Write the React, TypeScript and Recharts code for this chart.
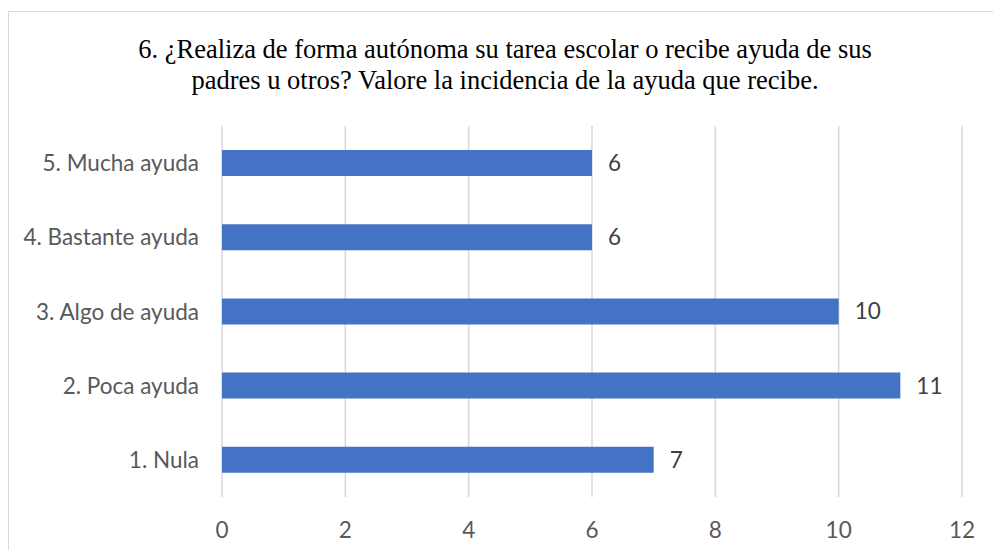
import React from "react";
import { BarChart, Bar, XAxis, YAxis, CartesianGrid, LabelList } from "recharts";

const categories = ["1. Nula", "2. Poca ayuda", "3. Algo de ayuda", "4. Bastante ayuda", "5. Mucha ayuda"];
const values = [7, 11, 10, 6, 6];
const xTicks = [0, 2, 4, 6, 8, 10, 12];
const titleLines = [
  "6. ¿Realiza de forma autónoma su tarea escolar o recibe ayuda de sus",
  "padres u otros? Valore la incidencia de la ayuda que recibe.",
];

const data = categories.map((c, i) => ({ name: c, value: values[i] }));

const LABEL_FONT = "Lato, 'Open Sans', sans-serif";
const LABEL_SIZE = 22.5;

const XTick = (props: any) => {
  const { x, y, payload } = props;
  return (
    <text x={x} y={y + 33} textAnchor="middle" fill="#595959" fontFamily={LABEL_FONT} fontSize={LABEL_SIZE}>
      {payload.value}
    </text>
  );
};

const YTick = (props: any) => {
  const { x, y, payload } = props;
  return (
    <text x={x - 15} y={y + 8} textAnchor="end" fill="#595959" fontFamily={LABEL_FONT} fontSize={LABEL_SIZE}>
      {payload.value}
    </text>
  );
};

const ValueLabel = (props: any) => {
  const { x, y, width, height, value } = props;
  return (
    <text x={x + width + 16} y={y + height / 2 + 8} textAnchor="start" fill="#404040" fontFamily={LABEL_FONT} fontSize={LABEL_SIZE}>
      {value}
    </text>
  );
};

export default function App() {
  return (
    <div style={{ position: "fixed", left: 0, top: 0, width: 993, height: 550, overflow: "hidden", background: "#fff" }}>
      <div style={{ position: "absolute", left: 8, top: 11, width: 1000, height: 600, border: "1px solid #d9d9d9", boxSizing: "border-box" }} />
      <svg width={993} height={120} style={{ position: "absolute", left: 0, top: 0 }}>
        {titleLines.map((t, i) => (
          <text key={i} x={505} y={58 + i * 31} textAnchor="middle" fontFamily="'Liberation Serif', 'Times New Roman', serif" fontSize={26.5} fill="#000">
            {t}
          </text>
        ))}
      </svg>
      <div style={{ position: "absolute", left: 0, top: 0 }}>
        <BarChart
          width={993}
          height={550}
          data={data}
          layout="vertical"
          margin={{ top: 126, right: 31, bottom: 0, left: 0 }}
        >
          <CartesianGrid horizontal={false} vertical={true} stroke="#d9d9d9" strokeWidth={1.5} />
          <XAxis
            type="number"
            domain={[0, 12]}
            ticks={xTicks}
            interval={0}
            axisLine={false}
            tickLine={false}
            height={53}
            tick={<XTick />}
          />
          <YAxis
            type="category"
            dataKey="name"
            reversed
            width={222}
            axisLine={false}
            tickLine={false}
            interval={0}
            tick={<YTick />}
          />
          <Bar dataKey="value" fill="#4472C4" barSize={26} isAnimationActive={false}>
            <LabelList dataKey="value" content={<ValueLabel />} />
          </Bar>
        </BarChart>
      </div>
    </div>
  );
}
